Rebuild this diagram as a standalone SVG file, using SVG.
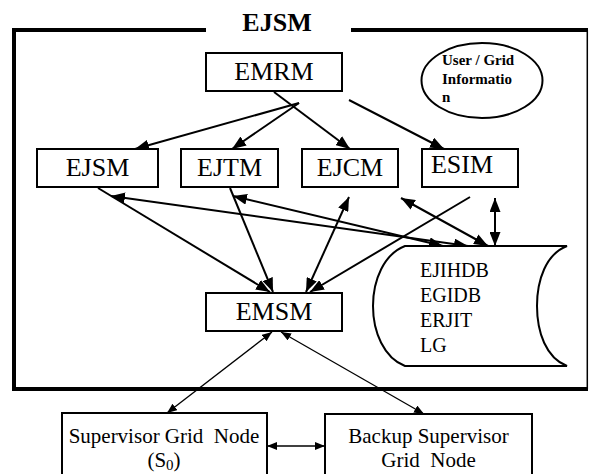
<svg xmlns="http://www.w3.org/2000/svg" width="589" height="474" viewBox="0 0 589 474">
  <style>
    text { font-family: "Liberation Serif", "Times New Roman", Tinos, Times, "DejaVu Serif", serif; fill: #000; }
    .box { fill: #fff; stroke: #000; stroke-width: 2; }
    .lbl { font-size: 26px; text-anchor: middle; }
    .title { font-size: 26px; font-weight: bold; text-anchor: middle; }
    .db { font-size: 20px; }
    .info { font-size: 15px; font-weight: bold; }
    .sub { font-size: 21px; text-anchor: middle; }
    .frame { fill: none; stroke: #000; stroke-width: 4; }
    .link { fill: none; stroke: #000; stroke-width: 2; }
    .thin { fill: none; stroke: #000; stroke-width: 1.3; }
  </style>
  <defs>
    <marker id="big" viewBox="0 0 14 11" refX="14" refY="5.5" markerWidth="14" markerHeight="11" markerUnits="userSpaceOnUse" orient="auto-start-reverse">
      <path d="M0,0 L14,5.5 L0,11 z" fill="#000"/>
    </marker>
    <marker id="small" viewBox="0 0 10 8" refX="10" refY="4" markerWidth="10" markerHeight="8" markerUnits="userSpaceOnUse" orient="auto-start-reverse">
      <path d="M0,0 L10,4 L0,8 z" fill="#000"/>
    </marker>
  </defs>

  <rect width="589" height="474" fill="#fff"/>

  <!-- EJSM boundary frame with title gap -->
  <g id="frame">
    <path class="frame" d="M206,30 L14,30 L14,389 L588,389"/>
    <path class="frame" d="M351,30 L588,30"/>
    <line x1="587.3" y1="30" x2="587.3" y2="389" stroke="#000" stroke-width="1.5"/>
    <text class="title" x="277" y="31">EJSM</text>
  </g>

  <!-- connectors -->
  <g id="connectors">
    <!-- from EMRM -->
    <line class="link" x1="299" y1="103" x2="135" y2="149" marker-end="url(#big)"/>
    <line class="link" x1="299" y1="103" x2="232" y2="149" marker-end="url(#big)"/>
    <line class="link" x1="274" y1="92" x2="350" y2="149" marker-end="url(#big)"/>
    <line class="link" x1="349" y1="100" x2="444" y2="149" marker-end="url(#big)"/>
    <!-- into EMSM -->
    <line class="link" x1="98" y1="188" x2="270" y2="292" marker-end="url(#big)"/>
    <line class="link" x1="230" y1="188" x2="273" y2="292" marker-end="url(#big)"/>
    <line class="link" x1="349" y1="197" x2="306" y2="292" marker-start="url(#big)" marker-end="url(#big)"/>
    <line class="link" x1="470" y1="197" x2="310" y2="292" marker-end="url(#big)"/>
    <!-- database links -->
    <line class="link" x1="111" y1="196" x2="468" y2="246" marker-start="url(#big)" marker-end="url(#big)"/>
    <line class="link" x1="233" y1="196" x2="443" y2="246" marker-start="url(#big)" marker-end="url(#big)"/>
    <line class="link" x1="401" y1="198" x2="488" y2="246" marker-start="url(#big)" marker-end="url(#big)"/>
    <line class="link" x1="495" y1="198" x2="495" y2="246" marker-start="url(#big)" marker-end="url(#big)"/>
    <!-- supervisor links -->
    <line class="thin" x1="272" y1="332" x2="167" y2="413" marker-start="url(#small)" marker-end="url(#small)"/>
    <line class="thin" x1="281" y1="332" x2="424" y2="414" marker-start="url(#small)" marker-end="url(#small)"/>
    <line class="thin" x1="267" y1="446" x2="325" y2="446" marker-start="url(#small)" marker-end="url(#small)"/>
  </g>

  <g id="emrm">
    <rect class="box" x="206" y="53" width="136" height="38"/>
    <text class="lbl" x="274" y="80">EMRM</text>
  </g>

  <g id="user-grid-info">
    <ellipse cx="482" cy="80.5" rx="60.5" ry="37.5" fill="#fff" stroke="#000" stroke-width="2"/>
    <text class="info" x="442" y="65">User / Grid</text>
    <text class="info" x="442" y="84">Informatio</text>
    <text class="info" x="442" y="102">n</text>
  </g>

  <g id="ejsm">
    <rect class="box" x="37" y="149" width="121" height="38"/>
    <text class="lbl" x="97.5" y="176">EJSM</text>
  </g>

  <g id="ejtm">
    <rect class="box" x="181" y="149" width="97" height="38"/>
    <text class="lbl" x="229.5" y="176">EJTM</text>
  </g>

  <g id="ejcm">
    <rect class="box" x="302" y="149" width="96" height="38"/>
    <text class="lbl" x="350" y="176">EJCM</text>
  </g>

  <g id="esim">
    <rect class="box" x="422" y="149" width="96" height="38"/>
    <text class="lbl" x="462" y="173">ESIM</text>
  </g>

  <g id="emsm">
    <rect class="box" x="206" y="293" width="136" height="38"/>
    <text class="lbl" x="274" y="320">EMSM</text>
  </g>

  <g id="database">
    <path d="M405,246 L567,246 C546,254 537,280 537,306 C537,332 546,358 567,366 L405,366 C384,358 373,332 373,306 C373,280 384,254 405,246 Z" fill="#fff" stroke="#000" stroke-width="2"/>
    <text class="db" x="420" y="277">EJIHDB</text>
    <text class="db" x="420" y="302">EGIDB</text>
    <text class="db" x="420" y="327">ERJIT</text>
    <text class="db" x="420" y="352">LG</text>
  </g>

  <g id="supervisor">
    <rect class="box" x="62" y="413" width="205" height="70"/>
    <text class="sub" x="164" y="443">Supervisor Grid&#160; Node</text>
    <text class="sub" x="164" y="467">(S<tspan font-size="15" dy="3">0</tspan><tspan dy="-3">)</tspan></text>
  </g>

  <g id="backup">
    <rect class="box" x="325" y="414" width="207" height="70"/>
    <text class="sub" x="428.5" y="443">Backup Supervisor</text>
    <text class="sub" x="428.5" y="467">Grid&#160; Node</text>
  </g>
</svg>
